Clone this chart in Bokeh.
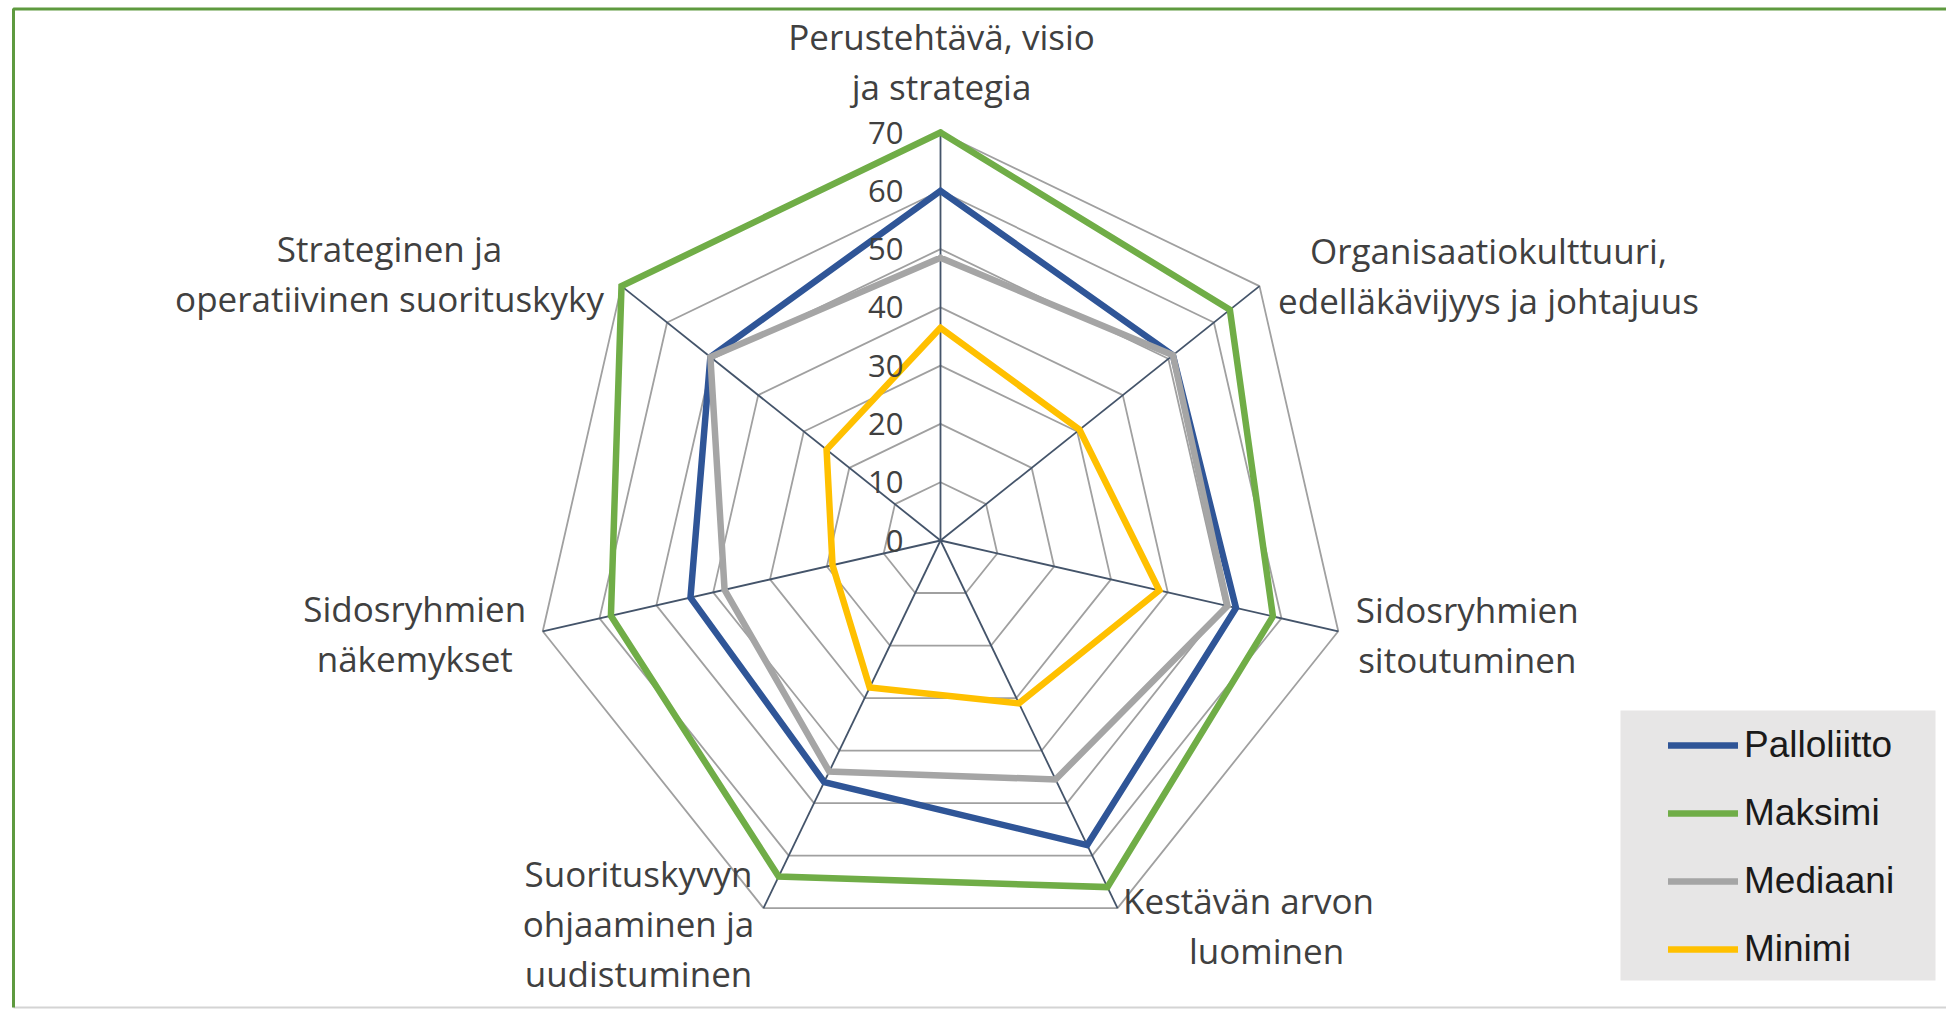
import numpy as np
from bokeh.plotting import figure
from bokeh.models import Range1d, Legend, LegendItem
from bokeh.core.properties import value
from bokeh.embed import file_html
from bokeh.resources import INLINE

# ---------------- data ----------------
categories = [
    "Perustehtävä, visio ja strategia",
    "Organisaatiokulttuuri, edelläkävijyys ja johtajuus",
    "Sidosryhmien sitoutuminen",
    "Kestävän arvon luominen",
    "Suorituskyvyn ohjaaminen ja uudistuminen",
    "Sidosryhmien näkemykset",
    "Strateginen ja operatiivinen suorituskyky",
]
category_lines = [
    ["Perustehtävä, visio", "ja strategia"],
    ["Organisaatiokulttuuri,", "edelläkävijyys ja johtajuus"],
    ["Sidosryhmien", "sitoutuminen"],
    ["Kestävän arvon", "luominen"],
    ["Suorituskyvyn", "ohjaaminen ja", "uudistuminen"],
    ["Sidosryhmien", "näkemykset"],
    ["Strateginen ja", "operatiivinen suorituskyky"],
]
series_names = ["Palloliitto", "Maksimi", "Mediaani", "Minimi"]
palloliitto = [60, 51, 52, 58, 46, 44, 50.5]
maksimi = [70, 63.5, 58.5, 66, 64, 58, 70]
mediaani = [48.5, 51, 50.5, 45.5, 44, 38, 50.5]
minimi = [36.5, 30.5, 38.5, 31, 28, 19, 25]
tick_values = [0, 10, 20, 30, 40, 50, 60, 70]
tick_labels = ["0", "10", "20", "30", "40", "50", "60", "70"]

# ---------------- layout / style ----------------
W, H = 1946, 1010
CX, CY = 940, 540            # chart centre in canvas px
RMAX = 70
K = 408 / RMAX               # px per value unit
series_colors = ["#2F5597", "#70AD47", "#A5A5A5", "#FFC000"]
# label block centre offset (px) from the outer vertex of each spoke
label_offsets = [(1, -71), (229, -11), (129, 3), (137, 17), (-125, 15), (-128, 2), (-232, -13)]
# small per-line horizontal nudges (px), mimicking wrapped-label alignment
label_line_dx = [[0, 0], [0, 0], [0, 0], [-6, 12], [0, 0, 0], [0, 0], [0, 0]]
label_line_h = 50
FONT = "Open Sans"

p = figure(width=W, height=H, output_backend="svg", toolbar_location=None,
           x_range=Range1d(-CX / K, (W - CX) / K),
           y_range=Range1d(-(H - CY) / K, CY / K),
           min_border=0, outline_line_color=None,
           background_fill_color="white", border_fill_color="white")
p.axis.visible = False
p.grid.visible = False

n = len(categories)
theta = np.pi / 2 - 2 * np.pi * np.arange(n) / n
cos_t, sin_t = np.cos(theta), np.sin(theta)

def px2data(px, py):
    return (px - CX) / K, (CY - py) / K

# frame
fx0, fy0 = px2data(13, 8.5)
fx1, fy1 = px2data(1980, 1007)
p.line([fx1, fx0], [fy1, fy1], line_color="#D4D4D4", line_width=2)
p.line([fx0, fx0, fx1], [fy1, fy0, fy0], line_color="#5E9A3F", line_width=3)

# legend background box
lx0, ly0 = px2data(1620, 710)
lx1, ly1 = px2data(1935, 980)
p.quad(left=[lx0], right=[lx1], top=[ly0], bottom=[ly1], fill_color="#E7E6E6", line_color=None)

# rings
ring_xs, ring_ys = [], []
for t in tick_values[1:]:
    ring_xs.append(list(t * cos_t) + [t * cos_t[0]])
    ring_ys.append(list(t * sin_t) + [t * sin_t[0]])
p.multi_line(ring_xs, ring_ys, line_color="#A0A0A0", line_width=1.8)

# spokes
p.segment(x0=[0] * n, y0=[0] * n, x1=list(RMAX * cos_t), y1=list(RMAX * sin_t),
          line_color="#44546A", line_width=1.8)

# series
renderers = []
for name, vals, col in zip(series_names, [palloliitto, maksimi, mediaani, minimi], series_colors):
    v = np.array(vals + [vals[0]], dtype=float)
    th = np.append(theta, theta[0])
    r = p.line(v * np.cos(th), v * np.sin(th), line_color=col, line_width=6.5,
               line_join="miter", line_cap="round")
    renderers.append(r)

# tick labels
p.text(x=[-37 / K] * len(tick_values), y=tick_values, text=tick_labels,
       text_align="right", text_baseline="middle", text_font=value(FONT),
       text_font_size="31px", text_color="#404040")

# category labels
tx, ty, tt = [], [], []
for i, lines in enumerate(category_lines):
    dx, dy = label_offsets[i]
    m = len(lines)
    for j, ln in enumerate(lines):
        oy = dy + (j - (m - 1) / 2) * label_line_h
        tx.append(RMAX * cos_t[i] + (dx + label_line_dx[i][j]) / K)
        ty.append(RMAX * sin_t[i] - oy / K)
        tt.append(ln)
p.text(x=tx, y=ty, text=tt, text_align="center", text_baseline="middle",
       text_font=value(FONT), text_font_size="35px", text_color="#404040")

# legend
legend = Legend(items=[LegendItem(label=nm, renderers=[r]) for nm, r in zip(series_names, renderers)],
                location=(1668, 40), orientation="vertical", margin=0, padding=0,
                spacing=26, glyph_width=70, glyph_height=40, label_height=40,
                label_standoff=6, label_text_font="Liberation Sans",
                label_text_font_size="37px", label_text_color="#1A1A1A",
                background_fill_alpha=0, border_line_alpha=0)
p.add_layout(legend)

open("out.html", "w").write(file_html(p, INLINE))
